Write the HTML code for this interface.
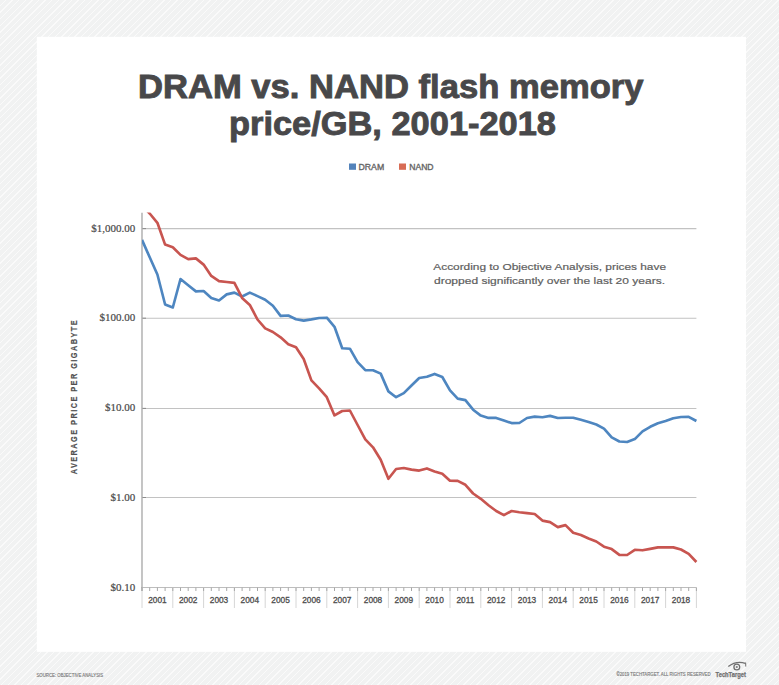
<!DOCTYPE html>
<html><head><meta charset="utf-8">
<style>
html,body{margin:0;padding:0;}
body{width:779px;height:685px;overflow:hidden;position:relative;
background-color:#f1f2f2;
background-image:repeating-linear-gradient(135deg, #f1f2f2 0px, #f1f2f2 3.67px, #fafafa 3.67px, #fafafa 4.67px);
font-family:"Liberation Sans", sans-serif;}
svg{position:absolute;left:0;top:0;}
.yl{font-family:"Liberation Serif", serif;font-size:11px;fill:#4a4a4a;stroke:#4a4a4a;stroke-width:0.2px;}
.xl{font-family:"Liberation Sans", sans-serif;font-size:8.3px;fill:#4e4e4e;stroke:#4e4e4e;stroke-width:0.3px;}
.title{font-family:"Liberation Sans", sans-serif;font-weight:bold;font-size:33px;fill:#48484a;stroke:#48484a;stroke-width:0.9px;}
.leg{font-family:"Liberation Sans", sans-serif;font-size:8.5px;fill:#666;stroke:#666;stroke-width:0.35px;}
.ann{font-family:"Liberation Sans", sans-serif;font-size:9.9px;fill:#5e5e5e;stroke:#5e5e5e;stroke-width:0.2px;}
.ytitle{font-family:"Liberation Sans", sans-serif;font-size:9px;fill:#4f4f4f;font-weight:bold;stroke:#4f4f4f;stroke-width:0.2px;}
.foot{font-family:"Liberation Sans", sans-serif;font-size:5px;fill:#7a7a7a;stroke:#7a7a7a;stroke-width:0.15px;}
</style></head><body>
<svg width="779" height="685" viewBox="0 0 779 685">
<defs><clipPath id="clip"><rect x="142" y="212.5" width="560" height="380"/></clipPath></defs>
<rect x="36.8" y="36.8" width="709.2" height="615" fill="#ffffff"/>
<text x="138" y="98" textLength="505.5" lengthAdjust="spacingAndGlyphs" class="title">DRAM vs. NAND flash memory</text>
<text x="229" y="135" textLength="327" lengthAdjust="spacingAndGlyphs" class="title">price/GB, 2001-2018</text>
<rect x="349" y="163.5" width="7" height="6.3" fill="#5383bb"/>
<text x="358.5" y="170" textLength="25.7" lengthAdjust="spacingAndGlyphs" class="leg">DRAM</text>
<rect x="399" y="163.5" width="7" height="6.3" fill="#d86c55"/>
<text x="409.2" y="170" textLength="24.4" lengthAdjust="spacingAndGlyphs" class="leg">NAND</text>
<text x="433.3" y="269.9" textLength="232.7" lengthAdjust="spacingAndGlyphs" class="ann">According to Objective Analysis, prices have</text>
<text x="434" y="284" textLength="231" lengthAdjust="spacingAndGlyphs" class="ann">dropped significantly over the last 20 years.</text>
<text transform="translate(76.8,474.3) rotate(-90) scale(0.82,1)" textLength="187.8" lengthAdjust="spacing" class="ytitle">AVERAGE PRICE PER GIGABYTE</text>
<line x1="142" y1="228.6" x2="696.4" y2="228.6" stroke="#c2c2c2" stroke-width="1.05"/>
<line x1="142" y1="228.6" x2="146" y2="228.6" stroke="#8c8c8c" stroke-width="1.05"/>
<line x1="142" y1="318.2" x2="696.4" y2="318.2" stroke="#c2c2c2" stroke-width="1.05"/>
<line x1="142" y1="318.2" x2="146" y2="318.2" stroke="#8c8c8c" stroke-width="1.05"/>
<line x1="142" y1="408.4" x2="696.4" y2="408.4" stroke="#c2c2c2" stroke-width="1.05"/>
<line x1="142" y1="408.4" x2="146" y2="408.4" stroke="#8c8c8c" stroke-width="1.05"/>
<line x1="142" y1="497.5" x2="696.4" y2="497.5" stroke="#c2c2c2" stroke-width="1.05"/>
<line x1="142" y1="497.5" x2="146" y2="497.5" stroke="#8c8c8c" stroke-width="1.05"/>
<text x="135.3" y="231.6" text-anchor="end" class="yl">$1,000.00</text>
<text x="135.3" y="321.2" text-anchor="end" class="yl">$100.00</text>
<text x="135.3" y="411.4" text-anchor="end" class="yl">$10.00</text>
<text x="135.3" y="500.5" text-anchor="end" class="yl">$1.00</text>
<text x="135.3" y="590.5" text-anchor="end" class="yl">$0.10</text>
<line x1="141" y1="587.5" x2="696.4" y2="587.5" stroke="#bdbdbd" stroke-width="1.1"/>
<line x1="142.00" y1="587.5" x2="142.00" y2="608" stroke="#d6d6d6" stroke-width="1"/>
<line x1="142.00" y1="587.5" x2="142.00" y2="591" stroke="#a8a8a8" stroke-width="1"/>
<line x1="172.80" y1="587.5" x2="172.80" y2="608" stroke="#d6d6d6" stroke-width="1"/>
<line x1="172.80" y1="587.5" x2="172.80" y2="591" stroke="#a8a8a8" stroke-width="1"/>
<line x1="203.60" y1="587.5" x2="203.60" y2="608" stroke="#d6d6d6" stroke-width="1"/>
<line x1="203.60" y1="587.5" x2="203.60" y2="591" stroke="#a8a8a8" stroke-width="1"/>
<line x1="234.40" y1="587.5" x2="234.40" y2="608" stroke="#d6d6d6" stroke-width="1"/>
<line x1="234.40" y1="587.5" x2="234.40" y2="591" stroke="#a8a8a8" stroke-width="1"/>
<line x1="265.20" y1="587.5" x2="265.20" y2="608" stroke="#d6d6d6" stroke-width="1"/>
<line x1="265.20" y1="587.5" x2="265.20" y2="591" stroke="#a8a8a8" stroke-width="1"/>
<line x1="296.00" y1="587.5" x2="296.00" y2="608" stroke="#d6d6d6" stroke-width="1"/>
<line x1="296.00" y1="587.5" x2="296.00" y2="591" stroke="#a8a8a8" stroke-width="1"/>
<line x1="326.80" y1="587.5" x2="326.80" y2="608" stroke="#d6d6d6" stroke-width="1"/>
<line x1="326.80" y1="587.5" x2="326.80" y2="591" stroke="#a8a8a8" stroke-width="1"/>
<line x1="357.60" y1="587.5" x2="357.60" y2="608" stroke="#d6d6d6" stroke-width="1"/>
<line x1="357.60" y1="587.5" x2="357.60" y2="591" stroke="#a8a8a8" stroke-width="1"/>
<line x1="388.40" y1="587.5" x2="388.40" y2="608" stroke="#d6d6d6" stroke-width="1"/>
<line x1="388.40" y1="587.5" x2="388.40" y2="591" stroke="#a8a8a8" stroke-width="1"/>
<line x1="419.20" y1="587.5" x2="419.20" y2="608" stroke="#d6d6d6" stroke-width="1"/>
<line x1="419.20" y1="587.5" x2="419.20" y2="591" stroke="#a8a8a8" stroke-width="1"/>
<line x1="450.00" y1="587.5" x2="450.00" y2="608" stroke="#d6d6d6" stroke-width="1"/>
<line x1="450.00" y1="587.5" x2="450.00" y2="591" stroke="#a8a8a8" stroke-width="1"/>
<line x1="480.80" y1="587.5" x2="480.80" y2="608" stroke="#d6d6d6" stroke-width="1"/>
<line x1="480.80" y1="587.5" x2="480.80" y2="591" stroke="#a8a8a8" stroke-width="1"/>
<line x1="511.60" y1="587.5" x2="511.60" y2="608" stroke="#d6d6d6" stroke-width="1"/>
<line x1="511.60" y1="587.5" x2="511.60" y2="591" stroke="#a8a8a8" stroke-width="1"/>
<line x1="542.40" y1="587.5" x2="542.40" y2="608" stroke="#d6d6d6" stroke-width="1"/>
<line x1="542.40" y1="587.5" x2="542.40" y2="591" stroke="#a8a8a8" stroke-width="1"/>
<line x1="573.20" y1="587.5" x2="573.20" y2="608" stroke="#d6d6d6" stroke-width="1"/>
<line x1="573.20" y1="587.5" x2="573.20" y2="591" stroke="#a8a8a8" stroke-width="1"/>
<line x1="604.00" y1="587.5" x2="604.00" y2="608" stroke="#d6d6d6" stroke-width="1"/>
<line x1="604.00" y1="587.5" x2="604.00" y2="591" stroke="#a8a8a8" stroke-width="1"/>
<line x1="634.80" y1="587.5" x2="634.80" y2="608" stroke="#d6d6d6" stroke-width="1"/>
<line x1="634.80" y1="587.5" x2="634.80" y2="591" stroke="#a8a8a8" stroke-width="1"/>
<line x1="665.60" y1="587.5" x2="665.60" y2="608" stroke="#d6d6d6" stroke-width="1"/>
<line x1="665.60" y1="587.5" x2="665.60" y2="591" stroke="#a8a8a8" stroke-width="1"/>
<line x1="696.40" y1="587.5" x2="696.40" y2="608" stroke="#d6d6d6" stroke-width="1"/>
<line x1="696.40" y1="587.5" x2="696.40" y2="591" stroke="#a8a8a8" stroke-width="1"/>
<line x1="149.70" y1="587.5" x2="149.70" y2="591" stroke="#a8a8a8" stroke-width="1"/>
<line x1="157.40" y1="587.5" x2="157.40" y2="591" stroke="#a8a8a8" stroke-width="1"/>
<line x1="165.10" y1="587.5" x2="165.10" y2="591" stroke="#a8a8a8" stroke-width="1"/>
<line x1="180.50" y1="587.5" x2="180.50" y2="591" stroke="#a8a8a8" stroke-width="1"/>
<line x1="188.20" y1="587.5" x2="188.20" y2="591" stroke="#a8a8a8" stroke-width="1"/>
<line x1="195.90" y1="587.5" x2="195.90" y2="591" stroke="#a8a8a8" stroke-width="1"/>
<line x1="211.30" y1="587.5" x2="211.30" y2="591" stroke="#a8a8a8" stroke-width="1"/>
<line x1="219.00" y1="587.5" x2="219.00" y2="591" stroke="#a8a8a8" stroke-width="1"/>
<line x1="226.70" y1="587.5" x2="226.70" y2="591" stroke="#a8a8a8" stroke-width="1"/>
<line x1="242.10" y1="587.5" x2="242.10" y2="591" stroke="#a8a8a8" stroke-width="1"/>
<line x1="249.80" y1="587.5" x2="249.80" y2="591" stroke="#a8a8a8" stroke-width="1"/>
<line x1="257.50" y1="587.5" x2="257.50" y2="591" stroke="#a8a8a8" stroke-width="1"/>
<line x1="272.90" y1="587.5" x2="272.90" y2="591" stroke="#a8a8a8" stroke-width="1"/>
<line x1="280.60" y1="587.5" x2="280.60" y2="591" stroke="#a8a8a8" stroke-width="1"/>
<line x1="288.30" y1="587.5" x2="288.30" y2="591" stroke="#a8a8a8" stroke-width="1"/>
<line x1="303.70" y1="587.5" x2="303.70" y2="591" stroke="#a8a8a8" stroke-width="1"/>
<line x1="311.40" y1="587.5" x2="311.40" y2="591" stroke="#a8a8a8" stroke-width="1"/>
<line x1="319.10" y1="587.5" x2="319.10" y2="591" stroke="#a8a8a8" stroke-width="1"/>
<line x1="334.50" y1="587.5" x2="334.50" y2="591" stroke="#a8a8a8" stroke-width="1"/>
<line x1="342.20" y1="587.5" x2="342.20" y2="591" stroke="#a8a8a8" stroke-width="1"/>
<line x1="349.90" y1="587.5" x2="349.90" y2="591" stroke="#a8a8a8" stroke-width="1"/>
<line x1="365.30" y1="587.5" x2="365.30" y2="591" stroke="#a8a8a8" stroke-width="1"/>
<line x1="373.00" y1="587.5" x2="373.00" y2="591" stroke="#a8a8a8" stroke-width="1"/>
<line x1="380.70" y1="587.5" x2="380.70" y2="591" stroke="#a8a8a8" stroke-width="1"/>
<line x1="396.10" y1="587.5" x2="396.10" y2="591" stroke="#a8a8a8" stroke-width="1"/>
<line x1="403.80" y1="587.5" x2="403.80" y2="591" stroke="#a8a8a8" stroke-width="1"/>
<line x1="411.50" y1="587.5" x2="411.50" y2="591" stroke="#a8a8a8" stroke-width="1"/>
<line x1="426.90" y1="587.5" x2="426.90" y2="591" stroke="#a8a8a8" stroke-width="1"/>
<line x1="434.60" y1="587.5" x2="434.60" y2="591" stroke="#a8a8a8" stroke-width="1"/>
<line x1="442.30" y1="587.5" x2="442.30" y2="591" stroke="#a8a8a8" stroke-width="1"/>
<line x1="457.70" y1="587.5" x2="457.70" y2="591" stroke="#a8a8a8" stroke-width="1"/>
<line x1="465.40" y1="587.5" x2="465.40" y2="591" stroke="#a8a8a8" stroke-width="1"/>
<line x1="473.10" y1="587.5" x2="473.10" y2="591" stroke="#a8a8a8" stroke-width="1"/>
<line x1="488.50" y1="587.5" x2="488.50" y2="591" stroke="#a8a8a8" stroke-width="1"/>
<line x1="496.20" y1="587.5" x2="496.20" y2="591" stroke="#a8a8a8" stroke-width="1"/>
<line x1="503.90" y1="587.5" x2="503.90" y2="591" stroke="#a8a8a8" stroke-width="1"/>
<line x1="519.30" y1="587.5" x2="519.30" y2="591" stroke="#a8a8a8" stroke-width="1"/>
<line x1="527.00" y1="587.5" x2="527.00" y2="591" stroke="#a8a8a8" stroke-width="1"/>
<line x1="534.70" y1="587.5" x2="534.70" y2="591" stroke="#a8a8a8" stroke-width="1"/>
<line x1="550.10" y1="587.5" x2="550.10" y2="591" stroke="#a8a8a8" stroke-width="1"/>
<line x1="557.80" y1="587.5" x2="557.80" y2="591" stroke="#a8a8a8" stroke-width="1"/>
<line x1="565.50" y1="587.5" x2="565.50" y2="591" stroke="#a8a8a8" stroke-width="1"/>
<line x1="580.90" y1="587.5" x2="580.90" y2="591" stroke="#a8a8a8" stroke-width="1"/>
<line x1="588.60" y1="587.5" x2="588.60" y2="591" stroke="#a8a8a8" stroke-width="1"/>
<line x1="596.30" y1="587.5" x2="596.30" y2="591" stroke="#a8a8a8" stroke-width="1"/>
<line x1="611.70" y1="587.5" x2="611.70" y2="591" stroke="#a8a8a8" stroke-width="1"/>
<line x1="619.40" y1="587.5" x2="619.40" y2="591" stroke="#a8a8a8" stroke-width="1"/>
<line x1="627.10" y1="587.5" x2="627.10" y2="591" stroke="#a8a8a8" stroke-width="1"/>
<line x1="642.50" y1="587.5" x2="642.50" y2="591" stroke="#a8a8a8" stroke-width="1"/>
<line x1="650.20" y1="587.5" x2="650.20" y2="591" stroke="#a8a8a8" stroke-width="1"/>
<line x1="657.90" y1="587.5" x2="657.90" y2="591" stroke="#a8a8a8" stroke-width="1"/>
<line x1="673.30" y1="587.5" x2="673.30" y2="591" stroke="#a8a8a8" stroke-width="1"/>
<line x1="681.00" y1="587.5" x2="681.00" y2="591" stroke="#a8a8a8" stroke-width="1"/>
<line x1="688.70" y1="587.5" x2="688.70" y2="591" stroke="#a8a8a8" stroke-width="1"/>
<text x="157.40" y="602.6" text-anchor="middle" class="xl">2001</text>
<text x="188.20" y="602.6" text-anchor="middle" class="xl">2002</text>
<text x="219.00" y="602.6" text-anchor="middle" class="xl">2003</text>
<text x="249.80" y="602.6" text-anchor="middle" class="xl">2004</text>
<text x="280.60" y="602.6" text-anchor="middle" class="xl">2005</text>
<text x="311.40" y="602.6" text-anchor="middle" class="xl">2006</text>
<text x="342.20" y="602.6" text-anchor="middle" class="xl">2007</text>
<text x="373.00" y="602.6" text-anchor="middle" class="xl">2008</text>
<text x="403.80" y="602.6" text-anchor="middle" class="xl">2009</text>
<text x="434.60" y="602.6" text-anchor="middle" class="xl">2010</text>
<text x="465.40" y="602.6" text-anchor="middle" class="xl">2011</text>
<text x="496.20" y="602.6" text-anchor="middle" class="xl">2012</text>
<text x="527.00" y="602.6" text-anchor="middle" class="xl">2013</text>
<text x="557.80" y="602.6" text-anchor="middle" class="xl">2014</text>
<text x="588.60" y="602.6" text-anchor="middle" class="xl">2015</text>
<text x="619.40" y="602.6" text-anchor="middle" class="xl">2016</text>
<text x="650.20" y="602.6" text-anchor="middle" class="xl">2017</text>
<text x="681.00" y="602.6" text-anchor="middle" class="xl">2018</text>
<line x1="142" y1="212.8" x2="142" y2="591" stroke="#acacac" stroke-width="1.4"/>
<g clip-path="url(#clip)">
<path d="M142.00,239.90 L149.70,257.30 L157.40,274.50 L165.10,304.50 L172.80,307.50 L180.50,279.00 L188.20,285.20 L195.90,291.40 L203.60,291.00 L211.30,297.90 L219.00,300.50 L226.70,294.40 L234.40,292.60 L242.10,296.50 L249.80,292.60 L257.50,296.10 L265.20,299.80 L272.90,305.80 L280.60,315.90 L288.30,315.50 L296.00,319.20 L303.70,320.60 L311.40,319.40 L319.10,318.00 L326.80,317.70 L334.50,326.80 L342.20,348.20 L349.90,348.70 L357.60,362.10 L365.30,370.10 L373.00,370.20 L380.70,373.60 L388.40,391.40 L396.10,397.20 L403.80,393.10 L411.50,385.50 L419.20,378.00 L426.90,376.80 L434.60,373.90 L442.30,377.00 L450.00,390.30 L457.70,398.60 L465.40,400.10 L473.10,409.70 L480.80,415.60 L488.50,417.90 L496.20,417.90 L503.90,420.50 L511.60,423.10 L519.30,423.00 L527.00,418.00 L534.70,416.60 L542.40,417.20 L550.10,415.90 L557.80,418.00 L565.50,417.80 L573.20,417.70 L580.90,419.80 L588.60,422.00 L596.30,424.50 L604.00,428.60 L611.70,437.40 L619.40,441.50 L627.10,442.00 L634.80,439.10 L642.50,431.40 L650.20,426.80 L657.90,423.20 L665.60,421.00 L673.30,418.30 L681.00,417.00 L688.70,416.80 L696.40,421.00" fill="none" stroke="#4e86c0" stroke-width="2.65" stroke-linejoin="round" stroke-linecap="butt"/>
<path d="M142.00,205.50 L149.70,213.50 L157.40,222.80 L165.10,244.60 L172.80,247.20 L180.50,254.90 L188.20,259.10 L195.90,258.40 L203.60,264.60 L211.30,275.90 L219.00,281.10 L226.70,282.00 L234.40,282.90 L242.10,297.90 L249.80,304.90 L257.50,319.50 L265.20,328.40 L272.90,332.00 L280.60,337.30 L288.30,344.30 L296.00,347.20 L303.70,359.00 L311.40,380.40 L319.10,388.40 L326.80,397.20 L334.50,415.40 L342.20,411.00 L349.90,410.50 L357.60,425.00 L365.30,439.40 L373.00,447.30 L380.70,459.80 L388.40,478.80 L396.10,469.00 L403.80,468.00 L411.50,469.60 L419.20,470.60 L426.90,468.40 L434.60,471.40 L442.30,473.70 L450.00,480.70 L457.70,480.90 L465.40,484.80 L473.10,493.50 L480.80,498.80 L488.50,505.20 L496.20,511.00 L503.90,515.10 L511.60,511.00 L519.30,512.20 L527.00,513.10 L534.70,514.00 L542.40,520.60 L550.10,522.10 L557.80,527.10 L565.50,525.10 L573.20,532.70 L580.90,535.00 L588.60,538.50 L596.30,541.50 L604.00,546.70 L611.70,549.10 L619.40,554.90 L627.10,555.00 L634.80,549.80 L642.50,550.30 L650.20,548.90 L657.90,547.40 L665.60,547.40 L673.30,547.40 L681.00,549.50 L688.70,553.80 L696.40,562.00" fill="none" stroke="#c85550" stroke-width="2.65" stroke-linejoin="round" stroke-linecap="butt"/>
</g>
<text x="36.4" y="676.7" textLength="66.8" lengthAdjust="spacingAndGlyphs" class="foot">SOURCE: OBJECTIVE ANALYSIS</text>
<text x="616.5" y="676.3" textLength="94" lengthAdjust="spacingAndGlyphs" class="foot">©2019 TECHTARGET. ALL RIGHTS RESERVED</text>
<text x="715.6" y="676.5" textLength="30.2" lengthAdjust="spacingAndGlyphs" style="font-size:6.6px;font-weight:bold;fill:#707070;stroke:#707070;stroke-width:0.25px;font-family:'Liberation Sans',sans-serif">TechTarget</text>
<path d="M728.3,666.4 Q736.5,660.2 745.4,663.4" fill="none" stroke="#707070" stroke-width="1.3"/>
<path d="M745.6,662.6 L745.8,666.6" fill="none" stroke="#707070" stroke-width="1"/>
<circle cx="736.8" cy="667" r="2.9" fill="none" stroke="#707070" stroke-width="1.3"/>
<circle cx="736.8" cy="667" r="1.1" fill="#808080"/>
</svg>
</body></html>
